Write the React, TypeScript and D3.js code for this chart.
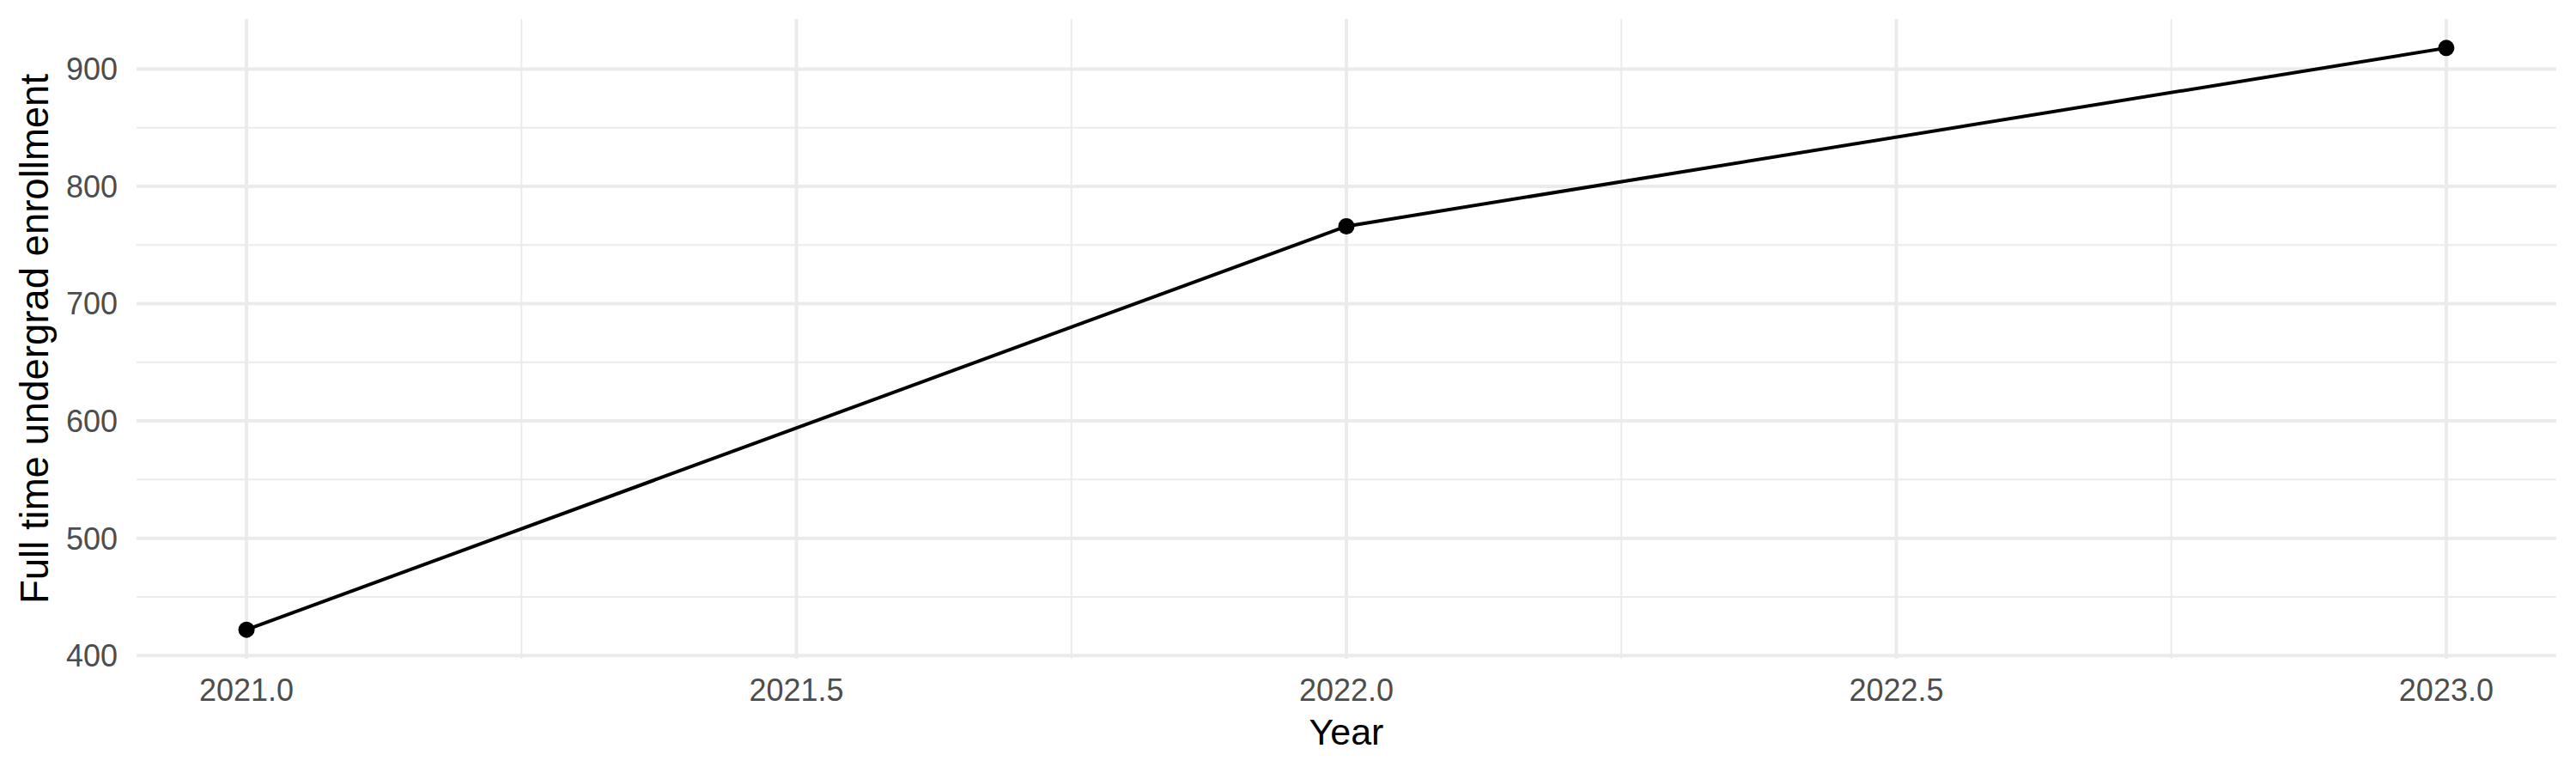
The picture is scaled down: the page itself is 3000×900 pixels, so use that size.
import React from "react";
import * as d3 from "d3";

const years = [2021, 2022, 2023];
const enrollment = [422, 766, 918];
const xMajorTicks = [2021.0, 2021.5, 2022.0, 2022.5, 2023.0];
const xMinorTicks = [2021.25, 2021.75, 2022.25, 2022.75];
const yMajorTicks = [400, 500, 600, 700, 800, 900];
const yMinorTicks = [450, 550, 650, 750, 850];
const xTitle = "Year";
const yTitle = "Full time undergrad enrollment";

const W = 3000;
const H = 900;
const left = 159;
const right = 2977;
const top = 22;
const bottom = 767;

export default function App() {
  const xExt = d3.extent(years) as [number, number];
  const yExt = d3.extent(enrollment) as [number, number];
  const xPad = (xExt[1] - xExt[0]) * 0.05;
  const yPad = (yExt[1] - yExt[0]) * 0.05;
  const x = d3.scaleLinear().domain([xExt[0] - xPad, xExt[1] + xPad]).range([left, right]);
  const y = d3.scaleLinear().domain([yExt[0] - yPad, yExt[1] + yPad]).range([bottom, top]);
  const pts = years.map((yr, i) => [yr, enrollment[i]] as [number, number]);
  const line = d3.line<[number, number]>().x((d) => x(d[0])).y((d) => y(d[1]));
  const font = "'Liberation Sans', Arial, Helvetica, sans-serif";

  return (
    <svg
      width={W}
      height={H}
      viewBox={`0 0 ${W} ${H}`}
      style={{ position: "absolute", left: 0, top: 0, background: "#fff" }}
      fontFamily={font}
    >
      <rect x={0} y={0} width={W} height={H} fill="#fff" />
      {yMinorTicks.map((t) => (
        <line key={"ym" + t} x1={left} x2={right} y1={y(t)} y2={y(t)} stroke="#ebebeb" strokeWidth={2} />
      ))}
      {xMinorTicks.map((t) => (
        <line key={"xm" + t} x1={x(t)} x2={x(t)} y1={top} y2={bottom} stroke="#ebebeb" strokeWidth={2} />
      ))}
      {yMajorTicks.map((t) => (
        <line key={"yM" + t} x1={left} x2={right} y1={y(t)} y2={y(t)} stroke="#ebebeb" strokeWidth={4} />
      ))}
      {xMajorTicks.map((t) => (
        <line key={"xM" + t} x1={x(t)} x2={x(t)} y1={top} y2={bottom} stroke="#ebebeb" strokeWidth={4} />
      ))}
      <path d={line(pts) || ""} fill="none" stroke="#000" strokeWidth={4} />
      {pts.map((p, i) => (
        <circle key={"p" + i} cx={x(p[0])} cy={y(p[1])} r={9.5} fill="#000" />
      ))}
      {yMajorTicks.map((t) => (
        <text key={"yl" + t} x={137} y={y(t)} dy="0.36em" textAnchor="end" fontSize={36} fill="#4d4d4d">
          {t}
        </text>
      ))}
      {xMajorTicks.map((t) => (
        <text key={"xl" + t} x={x(t)} y={816} textAnchor="middle" fontSize={36} fill="#4d4d4d">
          {d3.format(".1f")(t)}
        </text>
      ))}
      <text x={(left + right) / 2} y={867} textAnchor="middle" fontSize={43} fill="#000">
        {xTitle}
      </text>
      <text
        transform={`translate(56,${(top + bottom) / 2}) rotate(-90)`}
        textAnchor="middle"
        fontSize={45.5}
        fill="#000"
      >
        {yTitle}
      </text>
    </svg>
  );
}
